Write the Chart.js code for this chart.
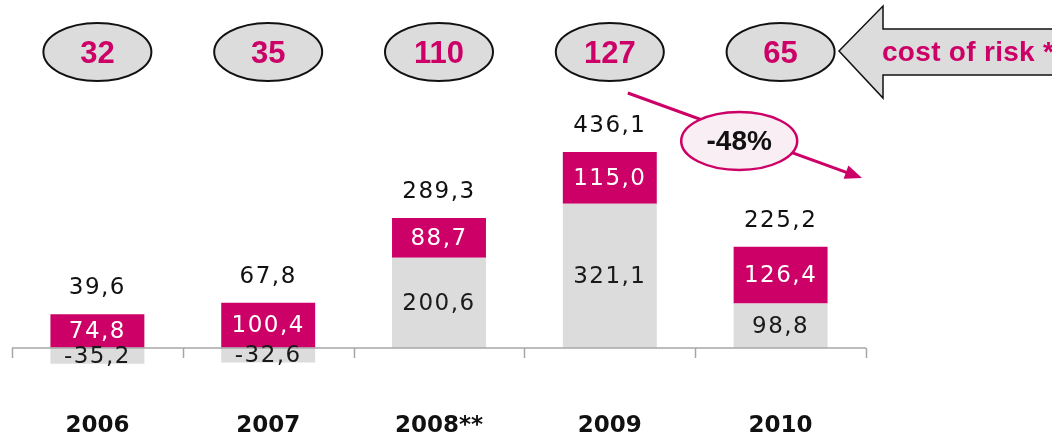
<!DOCTYPE html>
<html>
<head>
<meta charset="utf-8">
<script src="https://cdn.jsdelivr.net/npm/chart.js@4.4.1/dist/chart.umd.min.js"></script>
<style>
  html, body { margin: 0; padding: 0; background: #fff; }
  #wrap { width: 1052px; height: 440px; position: relative; }
</style>
</head>
<body>
<div id="wrap"><canvas id="chart"></canvas></div>
<script>
// ── Data ─────────────────────────────────────────────────────
const years      = ['2006', '2007', '2008**', '2009', '2010'];
const baseValues = [-35.2, -32.6, 200.6, 321.1, 98.8];   // grey part
const topValues  = [74.8, 100.4, 88.7, 115.0, 126.4];    // magenta part
const totals     = [39.6, 67.8, 289.3, 436.1, 225.2];
const costOfRisk = [32, 35, 110, 127, 65];
const costLabel  = 'cost of risk *';
const changeLabel = '-48%';

const PINK = '#cc0066';
const GREY = '#dcdcdc';

const fmt = v => v.toFixed(1).replace('.', ',');

function ellipse(ctx, cx, cy, rx, ry, fill, stroke, lw) {
  ctx.beginPath();
  ctx.ellipse(cx, cy, rx, ry, 0, 0, Math.PI * 2);
  ctx.fillStyle = fill;
  ctx.fill();
  ctx.lineWidth = lw;
  ctx.strokeStyle = stroke;
  ctx.stroke();
}

// ── Overlay: axis, labels, bubbles, arrows ──────────────────
const overlay = {
  id: 'overlay',
  afterDatasetsDraw(chart) {
    const { ctx, chartArea: area, scales: { x, y } } = chart;
    const zeroY = Math.round(y.getPixelForValue(0));
    const step = (area.right - area.left) / years.length;

    ctx.save();
    // zero line with tick marks at category boundaries
    ctx.strokeStyle = '#a6a6a6';
    ctx.lineWidth = 1.5;
    ctx.beginPath();
    ctx.moveTo(area.left, zeroY);
    ctx.lineTo(area.right, zeroY);
    for (let i = 0; i <= years.length; i++) {
      const tx = Math.round(area.left + i * step) + 0.5;
      ctx.moveTo(tx, zeroY);
      ctx.lineTo(tx, zeroY + 10);
    }
    ctx.stroke();

    // values inside the bars
    ctx.textAlign = 'center';
    ctx.textBaseline = 'middle';
    ctx.font = "23px 'DejaVu Sans'";
    ctx.letterSpacing = '1.5px';
    const baseMeta = chart.getDatasetMeta(0);
    const topMeta = chart.getDatasetMeta(1);
    baseMeta.data.forEach((bar, i) => {
      const cy = (bar.y + bar.base) / 2 + 1;
      ctx.fillStyle = '#1a1a1a';
      ctx.fillText(fmt(baseValues[i]), bar.x, cy);
    });
    topMeta.data.forEach((bar, i) => {
      const cy = (bar.y + bar.base) / 2 + 1;
      ctx.fillStyle = '#ffffff';
      ctx.fillText(fmt(topValues[i]), bar.x, cy);
      // total above the bar
      ctx.fillStyle = '#111';
      ctx.fillText(fmt(totals[i]), bar.x, bar.y - 26);
    });
    ctx.letterSpacing = '0px';

    // cost of risk bubbles
    ctx.font = "bold 31px 'Liberation Sans'";
    costOfRisk.forEach((v, i) => {
      const cx = x.getPixelForValue(i);
      ellipse(ctx, cx, 52, 54, 29, GREY, '#111', 2);
      ctx.fillStyle = PINK;
      ctx.fillText(String(v), cx, 54);
    });

    // big left-pointing arrow with label
    const tipX = area.right - 27;
    ctx.beginPath();
    ctx.moveTo(tipX, 51);
    ctx.lineTo(tipX + 44, 6);
    ctx.lineTo(tipX + 44, 29);
    ctx.lineTo(chart.width + 10, 29);
    ctx.lineTo(chart.width + 10, 75);
    ctx.lineTo(tipX + 44, 75);
    ctx.lineTo(tipX + 44, 98);
    ctx.closePath();
    ctx.fillStyle = GREY;
    ctx.fill();
    ctx.lineWidth = 1.5;
    ctx.strokeStyle = '#111';
    ctx.stroke();
    ctx.fillStyle = PINK;
    ctx.textAlign = 'left';
    ctx.font = "bold 28px 'Liberation Sans'";
    ctx.letterSpacing = '0.3px';
    ctx.fillText(costLabel, tipX + 43, 53);
    ctx.letterSpacing = '0px';

    // change arrow (2009 -> 2010)
    const x0 = x.getPixelForValue(3) + 18, y0 = 93;
    const x1 = area.right - 4, y1 = 178;
    const ang = Math.atan2(y1 - y0, x1 - x0);
    ctx.strokeStyle = PINK;
    ctx.lineWidth = 3;
    ctx.beginPath();
    ctx.moveTo(x0, y0);
    ctx.lineTo(x1 - 10 * Math.cos(ang), y1 - 10 * Math.sin(ang));
    ctx.stroke();
    ctx.beginPath();
    ctx.moveTo(x1, y1);
    ctx.lineTo(x1 - 17 * Math.cos(ang) + 7 * Math.sin(ang), y1 - 17 * Math.sin(ang) - 7 * Math.cos(ang));
    ctx.lineTo(x1 - 17 * Math.cos(ang) - 7 * Math.sin(ang), y1 - 17 * Math.sin(ang) + 7 * Math.cos(ang));
    ctx.closePath();
    ctx.fillStyle = PINK;
    ctx.fill();

    const ex = (x.getPixelForValue(3) + x.getPixelForValue(4)) / 2 + 44;
    ellipse(ctx, ex, 141, 58, 29, '#f9eef3', PINK, 2.5);
    ctx.fillStyle = '#111';
    ctx.textAlign = 'center';
    ctx.font = "bold 28px 'Liberation Sans'";
    ctx.fillText(changeLabel, ex, 142);
    ctx.restore();
  }
};

// ── Chart ────────────────────────────────────────────────────
const ctx = document.getElementById('chart').getContext('2d');
new Chart(ctx, {
  type: 'bar',
  data: {
    labels: years,
    datasets: [
      { label: 'base', data: baseValues, backgroundColor: GREY, borderWidth: 0 },
      { label: 'top',  data: topValues,  backgroundColor: PINK, borderWidth: 0 },
    ]
  },
  options: {
    responsive: true,
    maintainAspectRatio: false,
    animation: false,
    layout: { padding: { left: 12, right: 186, top: 0, bottom: 0 } },
    plugins: { legend: { display: false }, tooltip: { enabled: false } },
    datasets: { bar: { barPercentage: 0.55, categoryPercentage: 1 } },
    scales: {
      x: {
        stacked: true,
        grid: { display: false, drawTicks: false },
        border: { display: false },
        ticks: {
          color: '#111',
          padding: 0,
          font: { family: "'DejaVu Sans'", size: 23, weight: 'bold' }
        }
      },
      y: {
        stacked: true,
        display: false,
        min: -143.7,
        max: 774.6
      }
    }
  },
  plugins: [overlay]
});
</script>
</body>
</html>
